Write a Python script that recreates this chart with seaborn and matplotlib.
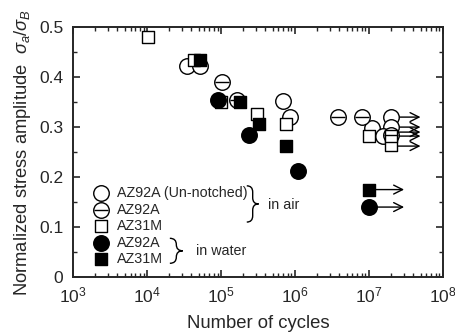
import numpy as np
import pandas as pd
import matplotlib
matplotlib.use("Agg")
import matplotlib.pyplot as plt
import matplotlib.ticker as ticker
from matplotlib.path import Path as MPath
from matplotlib.patches import PathPatch
import seaborn as sns

# open circle: AZ92A un-notched, in air
air_un_n = [3.5e4, 5.2e4, 7.0e5, 8.5e5, 1.1e7, 2.0e7, 2.0e7, 1.55e7]
air_un_s = [0.423, 0.423, 0.353, 0.320, 0.298, 0.320, 0.300, 0.283]
# theta circle: AZ92A notched, in air
air_92_n = [1.05e5, 1.65e5, 3.8e6, 8.0e6, 2.0e7]
air_92_s = [0.390, 0.355, 0.320, 0.320, 0.285]
# open square: AZ31M, in air
air_31_n = [1.05e4, 4.3e4, 1.0e5, 3.1e5, 7.6e5, 1.0e7, 2.0e7, 2.0e7]
air_31_s = [0.480, 0.435, 0.350, 0.327, 0.307, 0.283, 0.265, 0.283]
# filled circle: AZ92A, in water
wat_92_n = [9.0e4, 2.4e5, 1.1e6, 1.0e7]
wat_92_s = [0.355, 0.285, 0.213, 0.140]
# filled square: AZ31M, in water
wat_31_n = [5.3e4, 1.8e5, 3.3e5, 7.5e5, 1.0e7]
wat_31_s = [0.435, 0.350, 0.307, 0.263, 0.175]

# run-outs (arrows): start cycles, end cycles, stress
run_start = [2.4e7, 2.4e7, 2.4e7, 1.1e7, 2.4e7, 1.1e7, 1.1e7]
run_end = [5.0e7, 5.0e7, 5.0e7, 5.0e7, 5.0e7, 3.0e7, 3.0e7]
run_s = [0.320, 0.300, 0.290, 0.282, 0.262, 0.175, 0.140]

sns.set_style("ticks")
plt.rcParams.update({
    "font.family": "sans-serif", "font.sans-serif": ["Liberation Sans"],
    "mathtext.fontset": "custom", "mathtext.rm": "Liberation Sans",
    "mathtext.it": "Liberation Sans:italic",
    "font.size": 10.5, "axes.linewidth": 1.4,
    "xtick.direction": "in", "ytick.direction": "in",
    "xtick.top": True, "ytick.right": True,
})

fig = plt.figure(figsize=(4.56, 3.35), dpi=100)
ax = fig.add_axes([0.160, 0.173, 0.811, 0.746])

MS = 125
SQ = 80
kw = dict(ax=ax, edgecolor="black", linewidth=1.0, legend=False, zorder=3)
sns.scatterplot(x=air_un_n, y=air_un_s, marker="o", s=MS, color="white", **kw)
sns.scatterplot(x=air_92_n, y=air_92_s, marker="o", s=MS, color="white", **kw)
ax.scatter(air_92_n, air_92_s, marker="_", s=MS * 0.9, color="black", linewidth=1.0, zorder=4)
sns.scatterplot(x=air_31_n, y=air_31_s, marker="s", s=SQ, color="white", **kw)
sns.scatterplot(x=wat_92_n, y=wat_92_s, marker="o", s=MS, color="black", **kw)
sns.scatterplot(x=wat_31_n, y=wat_31_s, marker="s", s=SQ, color="black", **kw)

for x0, x1, y in zip(run_start, run_end, run_s):
    ax.annotate("", xy=(x1, y), xytext=(x0, y),
                arrowprops=dict(arrowstyle="->", color="black", lw=1.0,
                                shrinkA=0, shrinkB=0, mutation_scale=16),
                zorder=2)

ax.set_xscale("log")
ax.set_xlim(1e3, 1e8)
ax.set_ylim(0, 0.5)
ax.xaxis.set_major_locator(ticker.LogLocator(base=10, numticks=10))
ax.xaxis.set_minor_locator(ticker.LogLocator(base=10, subs=np.arange(2, 10), numticks=20))
ax.xaxis.set_minor_formatter(ticker.NullFormatter())
ax.yaxis.set_major_locator(ticker.MultipleLocator(0.1))
ax.yaxis.set_minor_locator(ticker.MultipleLocator(0.05))
ax.yaxis.set_major_formatter(ticker.FuncFormatter(lambda v, p: "0" if v == 0 else f"{v:.1f}"))
ax.tick_params(which="major", length=5, width=1.2, labelsize=12.5)
ax.tick_params(which="minor", length=3, width=1.0)
ax.tick_params(axis="x", pad=6)
ax.tick_params(axis="y", pad=7)
ax.set_xlabel("Number of cycles", fontsize=13.3, labelpad=7)
ax.set_ylabel(r"Normalized stress amplitude  $\sigma_a/\sigma_B$", fontsize=13.2, labelpad=4)

# legend drawn by hand
leg_y = [0.336, 0.268, 0.204, 0.136, 0.072]
leg_txt = ["AZ92A (Un-notched)", "AZ92A", "AZ31M", "AZ92A", "AZ31M"]
leg_face = ["white", "white", "white", "black", "black"]
leg_mark = ["o", "o", "s", "o", "s"]
for y, t, fc, m in zip(leg_y, leg_txt, leg_face, leg_mark):
    ax.scatter([0.076], [y], transform=ax.transAxes, marker=m,
               s=MS if m == "o" else SQ * 0.8, facecolor=fc, edgecolor="black", linewidth=1.0, zorder=3)
    ax.text(0.118, y, t, transform=ax.transAxes, va="center", ha="left", fontsize=10.3)
ax.scatter([0.076], [leg_y[1]], transform=ax.transAxes, marker="_", s=MS * 0.9,
           color="black", linewidth=1.0, zorder=4)


def brace(x0, yt, yb, w):
    ym = (yt + yb) / 2
    q = 0.025
    xm = x0 + w / 2
    verts = [(x0, yt), (xm, yt), (xm, yt - q), (xm, ym + q), (xm, ym), (x0 + w, ym),
             (xm, ym), (xm, ym - q), (xm, yb + q), (xm, yb), (x0, yb)]
    codes = [MPath.MOVETO, MPath.CURVE3, MPath.CURVE3, MPath.LINETO, MPath.CURVE3, MPath.CURVE3,
             MPath.CURVE3, MPath.CURVE3, MPath.LINETO, MPath.CURVE3, MPath.CURVE3]
    ax.add_patch(PathPatch(MPath(verts, codes), transform=ax.transAxes,
                           facecolor="none", edgecolor="black", lw=1.0))


brace(0.47, 0.365, 0.22, 0.032)
ax.text(0.527, 0.29, "in air", transform=ax.transAxes, va="center", ha="left", fontsize=10.3)
brace(0.262, 0.155, 0.055, 0.035)
ax.text(0.333, 0.105, "in water", transform=ax.transAxes, va="center", ha="left", fontsize=10.3)

fig.savefig("out.png", dpi=100)
